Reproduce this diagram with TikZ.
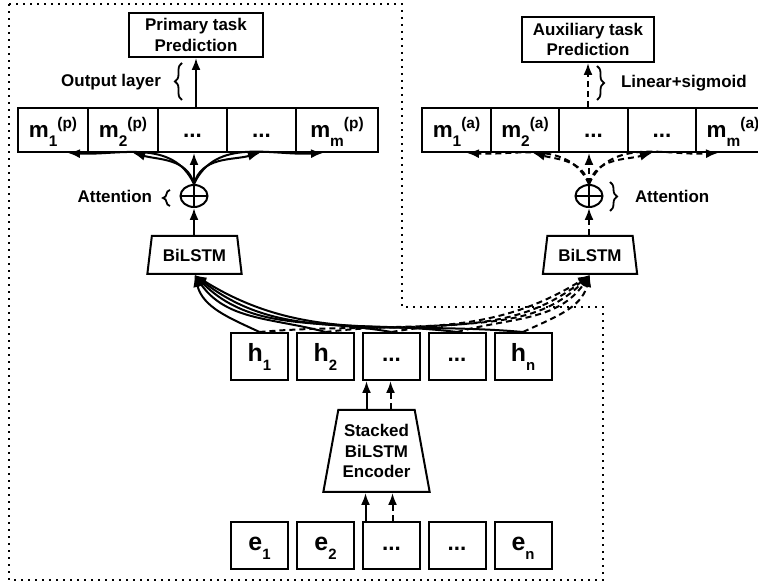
\documentclass[tikz,border=0pt]{standalone}
\usepackage{fontspec}
\setmainfont{Liberation Sans}
\usetikzlibrary{arrows.meta}
\usetikzlibrary{shapes.geometric}
\usetikzlibrary{decorations.pathreplacing}
\tikzset{box/.style = {draw, line width=2bp, inner sep=0, align=center,
                       font=\bfseries\fontsize{17}{20.5}\selectfont}}
\tikzset{cell/.style = {box, minimum height=44bp, text height=21bp, text depth=5bp}}
\tikzset{vcell/.style = {box, minimum width=57bp, minimum height=47bp, text height=18bp, text depth=8bp}}
\tikzset{trap/.style = {box, trapezium, trapezium stretches=true}}
\tikzset{lbl/.style = {inner sep=0, font=\bfseries\fontsize{17}{20}\selectfont}}
\tikzset{sumnode/.style = {draw, ellipse, inner sep=0, minimum width=27bp, minimum height=22bp,
                           path picture={\draw (path picture bounding box.north) -- (path picture bounding box.south)
                                               (path picture bounding box.west) -- (path picture bounding box.east);}}}
\tikzset{curly/.style = {decorate, decoration={brace, amplitude=7bp}, line width=1.8bp}}
\tikzset{dsh/.style = {dash pattern=on 6bp off 4bp}}
\tikzset{outline/.style = {line width=2bp, dash pattern=on 2bp off 5bp}}
\newcommand{\mcellt}[2]{\fontsize{22.5}{24}\selectfont m\raisebox{-9bp}{\fontsize{15.5}{16}\selectfont #1}\raisebox{9bp}{\fontsize{15.5}{16}\selectfont (#2)}}
\newcommand{\hcellt}[2]{\fontsize{25}{26}\selectfont #1\raisebox{-9bp}{\fontsize{15}{16}\selectfont #2}}
\newcommand{\dotst}{\fontsize{22.5}{24}\selectfont ...}

\begin{document}
\begin{tikzpicture}[x=1bp, y=1bp, >={Latex[length=12bp,width=9bp]}, line width=2bp]
    \useasboundingbox (0,0) rectangle (758,585);
    \clip (0,0) rectangle (758,585);

    \draw [outline] (9,581) -- (402,581) -- (402,278) -- (603,278) -- (603,5) -- (9,5) -- cycle;

    % primary task
    \node [box, minimum width=134bp, minimum height=44bp] (prim) at (196,550) {Primary task\\Prediction};
    \foreach \i/\x/\w/\t in {1/53/70/{\mcellt{1}{p}}, 2/123/70/{\mcellt{2}{p}}, 3/192.5/69/{\dotst},
                             4/261.5/69/{\dotst}, 5/337/82/{\mcellt{m}{p}}}
      \node [cell, minimum width=\w bp] (pm\i) at (\x,455) {\t};
    \node [sumnode] (opl) at (194,389) {};
    \node [trap, trapezium left angle=75, trapezium right angle=75,
           minimum width=95bp, minimum height=38bp] (bl) at (194.5,330) {BiLSTM};

    \node [lbl, anchor=east] (outl) at (162,503) {Output layer};
    \node [lbl, anchor=east] (attl) at (153,389) {Attention};
    \draw [curly] (182,485) -- (182,522);
    \draw [curly] (170,379) -- (170,395);

    \draw [->] (prim.south |- pm3.north) -- (prim.south);
    \draw [->] (opl.south |- bl.north) -- (opl.south);
    \draw [->] (opl.north) -- (opl.north |- pm3.south);
    \foreach \i/\s/\o/\n in {1/15/115/-3, 2/10/105/-15, 4/-1.5/75/195, 5/-14/65/183}
      \draw [->] (opl.north) to [out=\o, in=\n] ([xshift=\s bp]pm\i.south);

    % auxiliary task
    \node [box, minimum width=132bp, minimum height=45bp] (aux) at (588,545.5) {Auxiliary task\\Prediction};
    \foreach \i/\x/\w/\t in {1/456.5/69/{\mcellt{1}{a}}, 2/525/68/{\mcellt{2}{a}}, 3/593.5/69/{\dotst},
                             4/662/68/{\dotst}, 5/733/74/{\mcellt{m}{a}}}
      \node [cell, minimum width=\w bp] (am\i) at (\x,455) {\t};
    \node [sumnode] (opr) at (589,389) {};
    \node [trap, trapezium left angle=75, trapezium right angle=75,
           minimum width=95bp, minimum height=38bp] (br) at (590,330) {BiLSTM};

    \node [lbl, anchor=west] (lins) at (620,502) {Linear+sigmoid};
    \node [lbl, anchor=west] (attr) at (634,389) {Attention};
    \draw [curly] (597,519) -- (597,485);
    \draw [curly] (610,403) -- (610,374);

    \draw [->, dsh] (aux.south |- am3.north) -- (aux.south);
    \draw [->, dsh] (opr.south |- br.north) -- (opr.south);
    \draw [->, dsh] (opr.north) -- (opr.north |- am3.south);
    \foreach \i/\s/\o/\n in {1/10.5/115/-3, 2/8/105/-15, 4/-10/75/195, 5/-15/65/183}
      \draw [->, dsh] (opr.north) to [out=\o, in=\n] ([xshift=\s bp]am\i.south);

    % shared encoder
    \foreach \i/\x/\t in {1/259.5/{\hcellt{h}{1}}, 2/325.5/{\hcellt{h}{2}}, 3/391.5/{\dotst},
                          4/457/{\dotst}, 5/523/{\hcellt{h}{n}}}
    {
      \node [vcell] (h\i) at (\x,228.5) {\t};
    }
    \foreach \i/\x/\t in {1/259.5/{\hcellt{e}{1}}, 2/325.5/{\hcellt{e}{2}}, 3/391.5/{\dotst},
                          4/457/{\dotst}, 5/523/{\hcellt{e}{n}}}
    {
      \node [vcell] (e\i) at (\x,39.5) {\t};
    }
    \node [trap, trapezium left angle=76, trapezium right angle=76,
           minimum width=107bp, minimum height=82bp] (enc) at (376.5,134) {Stacked\\BiLSTM\\Encoder};

    \draw [->] ([xshift=-10bp]enc.north) -- ([xshift=-10bp]enc.north |- h3.south);
    \draw [->, dsh] ([xshift=14bp]enc.north) -- ([xshift=14bp]enc.north |- h3.south);
    \draw [->] ([xshift=-11bp]enc.south |- e3.north) -- ([xshift=-11bp]enc.south);
    \draw [->, dsh] ([xshift=16bp]enc.south |- e3.north) -- ([xshift=16bp]enc.south);

    \foreach \i/\o/\n in {1/155/-75, 2/165/-55, 3/170/-45, 4/173/-38, 5/175/-32}
      \draw [->] (h\i.north) to [out=\o, in=\n] (bl.south);
    \foreach \i/\o/\n in {1/5/-148, 2/7/-142, 3/10/-135, 4/15/-125, 5/25/-105}
      \draw [->, dsh] (h\i.north) to [out=\o, in=\n] (br.south);
\end{tikzpicture}
\end{document}
